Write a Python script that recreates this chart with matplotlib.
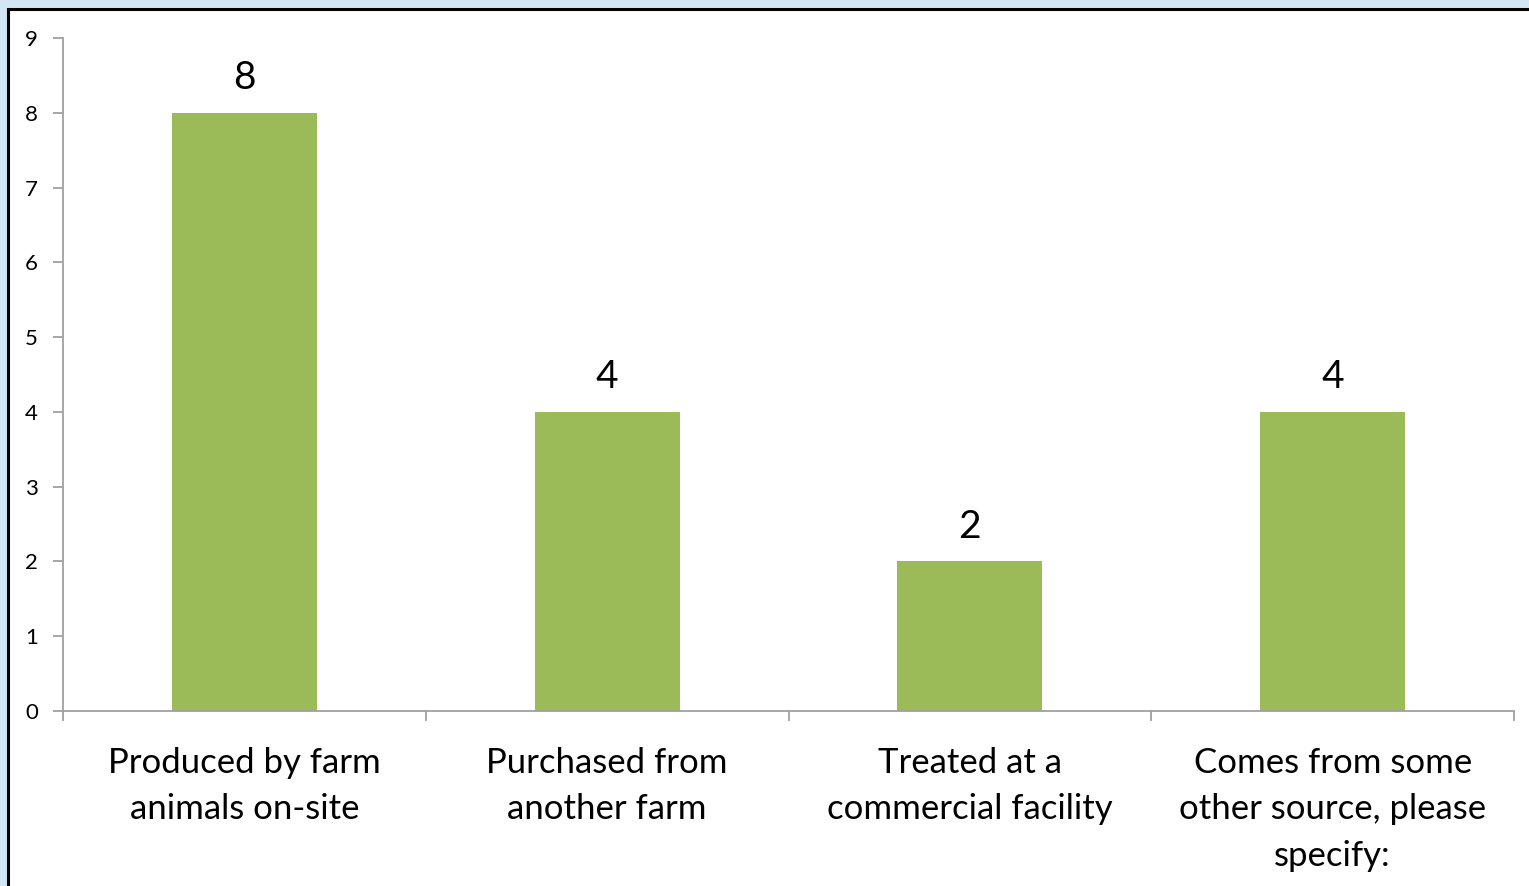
import matplotlib
matplotlib.use("Agg")
import matplotlib.pyplot as plt
from matplotlib.patches import Rectangle
from matplotlib.ticker import FixedLocator

categories = ['Produced by farm\nanimals on-site',
              'Purchased from\nanother farm',
              'Treated at a\ncommercial facility',
              'Comes from some\nother source, please\nspecify:']
counts = [8, 4, 2, 4]
y_ticks = list(range(0, 10))

plt.rcParams['font.family'] = ['Lato', 'DejaVu Sans']

W, H, DPI = 1529, 886, 100
fig = plt.figure(figsize=(W / DPI, H / DPI), dpi=DPI)
fig.patch.set_facecolor('#d3e6f3')

# white slide panel with a black frame, running off the right and bottom edges
panel = Rectangle((8 / W, -0.1), 1.2, (H - 9) / H + 0.1,
                  transform=fig.transFigure, facecolor='white',
                  edgecolor='black', linewidth=2.2, zorder=-1)
fig.patches.append(panel)

ax = fig.add_axes([63 / W, (H - 711) / H, (1514 - 63) / W, (711 - 38) / H])
ax.set_zorder(1)
ax.set_facecolor('none')

x = list(range(len(categories)))
bars = ax.bar(x, counts, width=0.4, color='#9bbb59', zorder=2)
for xi, v in zip(x, counts):
    ax.text(xi, v + 0.22, str(v), ha='center', va='bottom', fontsize=28)

ax.set_xlim(-0.5, len(categories) - 0.5)
ax.set_ylim(0, 9)
ax.set_yticks(y_ticks)
ax.yaxis.set_tick_params(labelsize=16, length=7, width=1.3, color='#a0a0a0', pad=11)

# tick marks sit between categories, labels sit under the bars
ax.xaxis.set_major_locator(FixedLocator([i - 0.5 for i in range(len(categories) + 1)]))
ax.xaxis.set_minor_locator(FixedLocator(x))
ax.set_xticklabels([])
ax.set_xticklabels(categories, minor=True, fontsize=25, linespacing=1.55)
ax.tick_params(axis='x', which='major', length=7, width=1.3, color='#a0a0a0')
ax.tick_params(axis='x', which='minor', length=0, pad=26)

for side in ['top', 'right']:
    ax.spines[side].set_visible(False)
for side in ['left', 'bottom']:
    ax.spines[side].set_color('#a0a0a0')
    ax.spines[side].set_linewidth(1.3)

fig.savefig('out.png', dpi=DPI)
